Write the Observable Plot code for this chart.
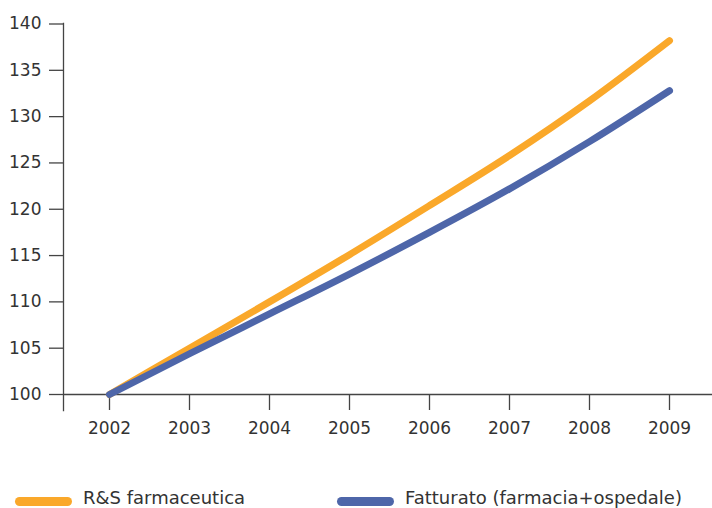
<!DOCTYPE html>
<html>
<head>
<meta charset="utf-8">
<script src="https://cdn.jsdelivr.net/npm/d3@7"></script>
<script src="https://cdn.jsdelivr.net/npm/@observablehq/plot@0.6"></script>
<style>
  body { margin: 0; background: #fff; font-family: "DejaVu Sans", sans-serif; }
  #chart svg { display: block; }
  .legend { position: relative; height: 58px; font-size: 18px; color: #333; }
  .item { position: absolute; top: 37px; display: flex; align-items: center; }
  .sw { width: 57px; height: 9px; border-radius: 5px; margin-right: 11px; margin-top: 7px; }
</style>
</head>
<body>
<div id="chart"></div>
<div class="legend">
  <div class="item" style="left:15px"><div class="sw" style="background:#FAA82A"></div><span>R&amp;S farmaceutica</span></div>
  <div class="item" style="left:337px"><div class="sw" style="background:#4E66A9"></div><span>Fatturato (farmacia+ospedale)</span></div>
</div>
<script>
const years = [2002, 2003, 2004, 2005, 2006, 2007, 2008, 2009];
const rsFarmaceutica = [100, 105.0, 110.0, 115.1, 120.4, 125.8, 131.7, 138.2];
const fatturato = [100, 104.4, 108.7, 113.0, 117.5, 122.2, 127.3, 132.8];
const yTicks = [100, 105, 110, 115, 120, 125, 130, 135, 140];
const seriesNames = ["R&S farmaceutica", "Fatturato (farmacia+ospedale)"];
const seriesColors = ["#FAA82A", "#4E66A9"];

const rows = [];
years.forEach((y, i) => {
  rows.push({year: y, value: rsFarmaceutica[i], series: seriesNames[0]});
  rows.push({year: y, value: fatturato[i], series: seriesNames[1]});
});

const chart = Plot.plot({
  width: 712,
  height: 450,
  marginLeft: 63,
  marginRight: 0,
  marginTop: 23,
  marginBottom: 40,
  style: {fontFamily: "'DejaVu Sans', sans-serif", fontSize: "17px", color: "#333"},
  x: {domain: [2002, 2009], range: [109, 669]},
  y: {domain: [100, 140], range: [394, 23.5]},
  color: {domain: seriesNames, range: seriesColors},
  marks: [
    Plot.frame({anchor: "left", stroke: "#444", strokeWidth: 1.3}),
    Plot.ruleY([100], {stroke: "#444", strokeWidth: 1.3}),
    Plot.axisY({ticks: yTicks, tickSize: 14, tickPadding: 8, stroke: "#444", strokeWidth: 1.3, fill: "#333", fontSize: 17, label: null}),
    Plot.axisX({ticks: years, tickSize: -16, tickFormat: () => "", stroke: "#444", strokeWidth: 1.3, label: null}),
    Plot.axisX({ticks: years, tickSize: 0, tickPadding: 11, tickFormat: d => String(d), fill: "#333", fontSize: 17, label: null}),
    Plot.line(rows, {x: "year", y: "value", stroke: "series", z: "series", strokeWidth: 7, strokeLinecap: "round", strokeLinejoin: "round", curve: "monotone-x"})
  ]
});
document.getElementById("chart").appendChild(chart);
</script>
</body>
</html>
